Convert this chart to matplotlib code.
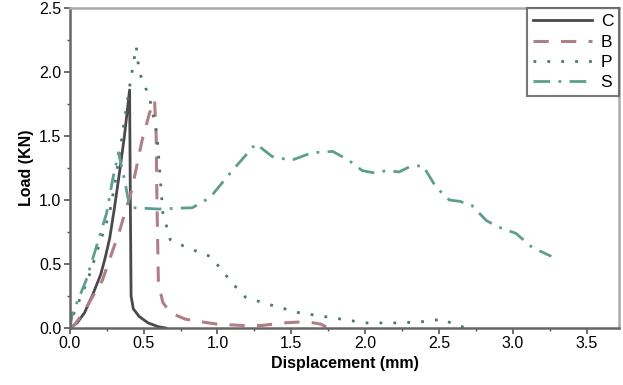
import matplotlib
matplotlib.use('Agg')
import matplotlib.pyplot as plt
from matplotlib.ticker import MultipleLocator

plt.rcParams['font.family'] = ['Liberation Sans', 'DejaVu Sans']

# curve C (solid)
c_x = [0.0, 0.05, 0.10, 0.155, 0.21, 0.24, 0.27, 0.30, 0.33, 0.37, 0.405, 0.41, 0.415, 0.43, 0.47, 0.53, 0.60, 0.65]
c_y = [0.0, 0.04, 0.12, 0.26, 0.42, 0.55, 0.70, 0.92, 1.16, 1.50, 1.86, 1.0, 0.25, 0.15, 0.09, 0.04, 0.01, 0.0]

# curve B (dashed)
b_x = [0.0, 0.03, 0.09, 0.22, 0.34, 0.42, 0.49, 0.54, 0.574, 0.585, 0.59, 0.60, 0.63, 0.68, 0.78, 0.88,
       1.0, 1.17, 1.3, 1.45, 1.6, 1.7, 1.75]
b_y = [0.0, 0.02, 0.12, 0.37, 0.77, 1.08, 1.47, 1.68, 1.78, 1.5, 1.0, 0.35, 0.2, 0.12, 0.07, 0.05,
       0.03, 0.02, 0.02, 0.04, 0.05, 0.03, 0.0]

# curve P (dotted)
p_x = [0.0, 0.03, 0.12, 0.27, 0.31, 0.4, 0.45, 0.47, 0.54, 0.59, 0.61, 0.63, 0.68, 0.79, 0.95, 1.01,
       1.1, 1.19, 1.33, 1.55, 1.78, 2.0, 2.23, 2.39, 2.53, 2.61, 2.7]
p_y = [0.0, 0.12, 0.37, 0.9, 1.16, 1.85, 2.2, 2.0, 1.8, 1.52, 1.21, 0.9, 0.69, 0.63, 0.56, 0.48,
       0.35, 0.24, 0.19, 0.12, 0.08, 0.04, 0.04, 0.05, 0.07, 0.02, 0.0]

# curve S (dash-dot)
s_x = [0.0, 0.02, 0.11, 0.25, 0.29, 0.33, 0.37, 0.405, 0.43, 0.6, 0.83, 0.95, 1.1, 1.26, 1.37, 1.5, 1.64,
       1.78, 1.89, 1.98, 2.07, 2.14, 2.23, 2.3, 2.39, 2.48, 2.57, 2.64, 2.72, 2.82, 2.9, 3.02, 3.13, 3.26]
s_y = [0.0, 0.12, 0.37, 0.9, 1.16, 1.37, 1.16, 0.95, 0.94, 0.93, 0.94, 1.02, 1.23, 1.44, 1.34, 1.31, 1.37,
       1.38, 1.31, 1.23, 1.21, 1.23, 1.22, 1.26, 1.27, 1.1, 1.0, 0.99, 0.96, 0.84, 0.79, 0.74, 0.63, 0.56]

fig = plt.figure(figsize=(6.23, 3.85), dpi=100)
ax = fig.add_axes([0.112, 0.148, 0.882, 0.831])

ax.plot(c_x, c_y, color='#4a4a4a', lw=2.0, ls='-', label='C')
ax.plot(b_x, b_y, color='#b07f86', lw=2.2, ls=(0, (5, 4)), label='B')
ax.plot(p_x, p_y, color='#4f7474', lw=2.0, ls=(0, (1, 4)), label='P')
ax.plot(s_x, s_y, color='#5e9e8e', lw=2.0, ls=(0, (6, 3, 1, 3)), label='S')

ax.set_xlim(0, 3.72)
ax.set_ylim(0, 2.5)
ax.xaxis.set_major_locator(MultipleLocator(0.5))
ax.xaxis.set_minor_locator(MultipleLocator(0.25))
ax.yaxis.set_major_locator(MultipleLocator(0.5))
ax.yaxis.set_minor_locator(MultipleLocator(0.25))
ax.xaxis.set_major_formatter(plt.FormatStrFormatter('%.1f'))
ax.yaxis.set_major_formatter(plt.FormatStrFormatter('%.1f'))
ax.tick_params(which='major', length=4, width=1.2, color='#555555', labelsize=11.5, pad=2)
ax.tick_params(which='minor', length=2.5, width=1.0, color='#555555')

for side in ['left', 'bottom']:
    ax.spines[side].set_color('#666666')
    ax.spines[side].set_linewidth(1.8)
for side in ['top', 'right']:
    ax.spines[side].set_color('#aaaaaa')
    ax.spines[side].set_linewidth(1.8)

ax.set_xlabel('Displacement (mm)', fontsize=11.5, fontweight='bold', labelpad=3)
ax.set_ylabel('Load (KN)', fontsize=11.5, fontweight='bold', labelpad=4)

leg = ax.legend(loc='upper right', borderaxespad=0, fontsize=12.5, handlelength=3.4,
                handletextpad=0.5, labelspacing=0.3, fancybox=False, borderpad=0.35)
leg.get_frame().set_edgecolor('#555555')
leg.get_frame().set_linewidth(1.5)

fig.savefig('out.png', dpi=100)
